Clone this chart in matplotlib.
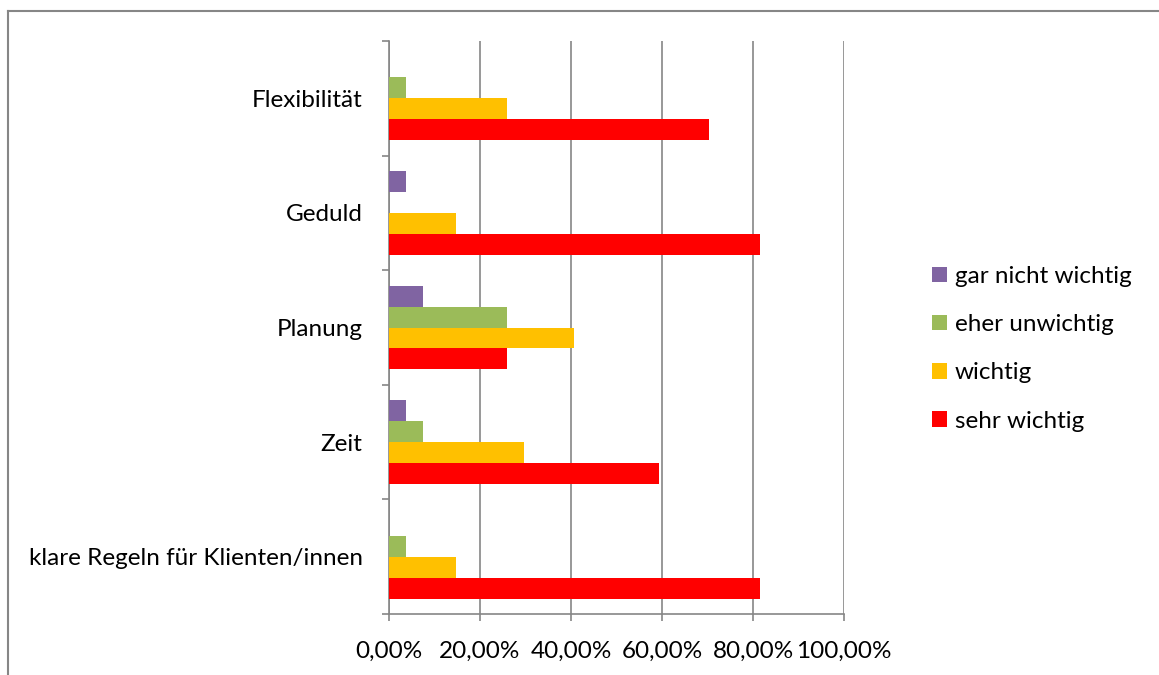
import matplotlib
matplotlib.use("Agg")
import matplotlib.pyplot as plt
from matplotlib.patches import Patch
from matplotlib.lines import Line2D
from matplotlib.ticker import FuncFormatter, FixedLocator
import numpy as np

plt.rcParams['font.family'] = ['Lato', 'DejaVu Sans']

# Categories listed top to bottom
categories = ["Flexibilität", "Geduld", "Planung", "Zeit", "klare Regeln für Klienten/innen"]
series_names = ["gar nicht wichtig", "eher unwichtig", "wichtig", "sehr wichtig"]
gar_nicht_wichtig = [0.0, 3.7, 7.4, 3.7, 0.0]
eher_unwichtig = [3.7, 0.0, 25.9, 7.4, 3.7]
wichtig = [25.9, 14.8, 40.7, 29.6, 14.8]
sehr_wichtig = [70.4, 81.5, 25.9, 59.3, 81.5]
colors = ["#8064A2", "#9BBB59", "#FFC000", "#FF0000"]
x_ticks = [0, 20, 40, 60, 80, 100]

series = [gar_nicht_wichtig, eher_unwichtig, wichtig, sehr_wichtig]
FS = 17.5

fig = plt.figure(figsize=(11.59, 6.75), dpi=100)
ax = fig.add_axes([389 / 1159, 1 - 614 / 675, (844 - 389) / 1159, (614 - 41) / 675])

n = len(categories)
ypos = np.arange(n)[::-1]  # first category at top
h = 0.183
offsets = [1.5 * h, 0.5 * h, -0.5 * h, -1.5 * h]

for vals, col, off, name in zip(series, colors, offsets, series_names):
    ax.barh(ypos + off, vals, height=h, color=col, label=name, zorder=3)

grid_col = "#868686"
ax.set_xlim(0, 100)
ax.set_ylim(-0.5, n - 0.5)
ax.set_xticks(x_ticks)
ax.xaxis.set_major_formatter(FuncFormatter(lambda v, p: f"{v:.2f}%".replace(".", ",")))
ax.xaxis.grid(True, color=grid_col, linewidth=1.2, zorder=0)
ax.set_axisbelow(True)

ax.set_yticks(ypos)
ax.set_yticklabels(categories)
ax.yaxis.set_minor_locator(FixedLocator(np.arange(-0.5, n, 1.0)))
ax.tick_params(axis='y', which='major', length=0, pad=19, labelsize=FS, colors='black')
ax.tick_params(axis='y', which='minor', length=5, width=1.2, color=grid_col)
ax.tick_params(axis='x', which='major', length=5, width=1.2, color=grid_col, pad=14, labelsize=FS)

for s in ["top", "right"]:
    ax.spines[s].set_visible(False)
for s in ["left", "bottom"]:
    ax.spines[s].set_color(grid_col)
    ax.spines[s].set_linewidth(1.2)

handles = [Patch(facecolor=c, edgecolor='none') for c in colors]
fig.legend(handles, series_names, loc='upper left', bbox_to_anchor=(932 / 1159, 1 - 266 / 675),
           frameon=False, fontsize=FS, handlelength=0.6, handleheight=0.6,
           handletextpad=0.35, labelspacing=1.12, borderaxespad=0, borderpad=0)

# outer chart frame
fig.add_artist(Line2D([8 / 1159, 1.0], [1 - 11 / 675] * 2, color=grid_col, linewidth=1.5, transform=fig.transFigure))
fig.add_artist(Line2D([8 / 1159] * 2, [0.0, 1 - 11 / 675], color=grid_col, linewidth=1.5, transform=fig.transFigure))

fig.savefig("out.png", dpi=100, facecolor="white")
